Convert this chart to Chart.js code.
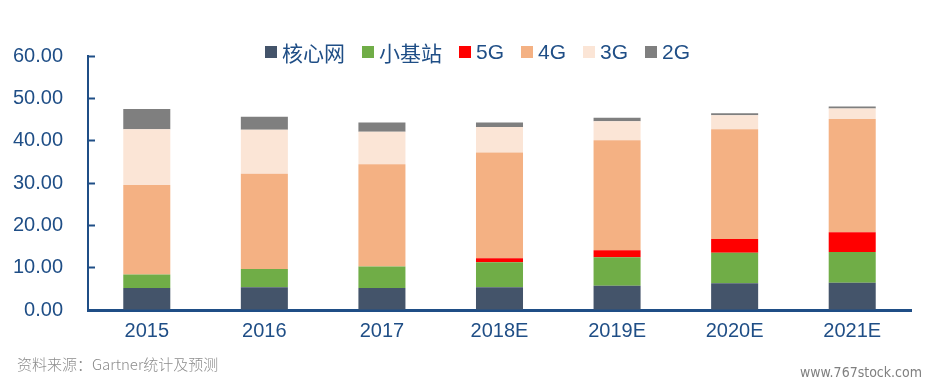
<!DOCTYPE html>
<html>
<head>
<meta charset="utf-8">
<script src="https://cdn.jsdelivr.net/npm/chart.js@4"></script>
<style>
  html, body { margin: 0; padding: 0; background: #fff; }
  #wrap { position: relative; width: 934px; height: 385px; overflow: hidden; }
  #legend { position: absolute; left: 265px; top: 37px; display: flex; align-items: center;
    font-family: "Liberation Sans", "Noto Sans CJK SC", sans-serif; font-size: 21px; color: #1F4E86; }
  #legend .item { display: flex; align-items: center; margin-right: 17px; }
  #legend .box { width: 12px; height: 12px; margin-right: 5px; }
  #source { position: absolute; left: 17px; top: 353px; font-family: "Noto Sans CJK SC", sans-serif;
    font-size: 15px; color: #8c8c8c; font-weight: 300; }
  #mark { position: absolute; left: 800px; top: 364px; font-family: "DejaVu Sans Condensed", "Liberation Sans", sans-serif;
    font-size: 14px; color: #808080; }
</style>
</head>
<body>
<div id="wrap">
  <canvas id="grafica" width="934" height="385"></canvas>
  <div id="legend"></div>
  <div id="source">资料来源：Gartner统计及预测</div>
  <div id="mark">www.767stock.com</div>
</div>
<script>
const anios = ["2015", "2016", "2017", "2018E", "2019E", "2020E", "2021E"];
const nucleo = [5.2, 5.4, 5.2, 5.4, 5.75, 6.3, 6.45];
const pequenas = [3.2, 4.3, 5.1, 5.9, 6.7, 7.2, 7.25];
const red5G = [0, 0, 0, 0.9, 1.65, 3.3, 4.65];
const red4G = [21.1, 22.5, 24.1, 25.0, 26.0, 25.9, 26.75];
const red3G = [13.2, 10.4, 7.7, 6.0, 4.5, 3.3, 2.5];
const red2G = [4.8, 3.05, 2.2, 1.1, 0.8, 0.5, 0.5];
const series = ["核心网", "小基站", "5G", "4G", "3G", "2G"];

const colores = ["#44546A", "#70AD47", "#FF0000", "#F4B183", "#FBE5D6", "#7F7F7F"];
const azul = "#1F4E86";

const valores = [nucleo, pequenas, red5G, red4G, red3G, red2G];
const datasets = series.map((nombre, i) => ({
  label: nombre,
  data: valores[i],
  backgroundColor: colores[i],
  borderWidth: 0,
  barPercentage: 0.4,
  categoryPercentage: 1,
}));

// leyenda en html
const leyenda = document.getElementById("legend");
series.forEach((nombre, i) => {
  const item = document.createElement("div");
  item.className = "item";
  item.innerHTML = `<span class="box" style="background:${colores[i]}"></span><span>${nombre}</span>`;
  leyenda.appendChild(item);
});

new Chart(document.getElementById("grafica"), {
  type: "bar",
  data: { labels: anios, datasets },
  options: {
    responsive: false,
    animation: false,
    devicePixelRatio: 1,
    layout: { padding: { top: 56, right: 23, bottom: 0, left: 0 } },
    plugins: { legend: { display: false }, tooltip: { enabled: false } },
    scales: {
      x: {
        stacked: true,
        grid: { display: false, drawTicks: false },
        border: { color: azul, width: 3 },
        ticks: { color: azul, padding: 9, font: { family: "Liberation Sans", size: 20 } },
        afterFit: s => { s.height = 75; },
      },
      y: {
        stacked: true,
        min: 0,
        max: 60,
        grid: { drawOnChartArea: false, tickLength: -7, color: azul, tickWidth: 2 },
        border: { color: azul, width: 2 },
        ticks: {
          stepSize: 10,
          color: azul,
          padding: 32,
          font: { family: "Liberation Sans", size: 20 },
          callback: v => v.toFixed(2),
        },
        afterFit: s => { s.width = 88; },
      },
    },
  },
});
</script>
</body>
</html>
